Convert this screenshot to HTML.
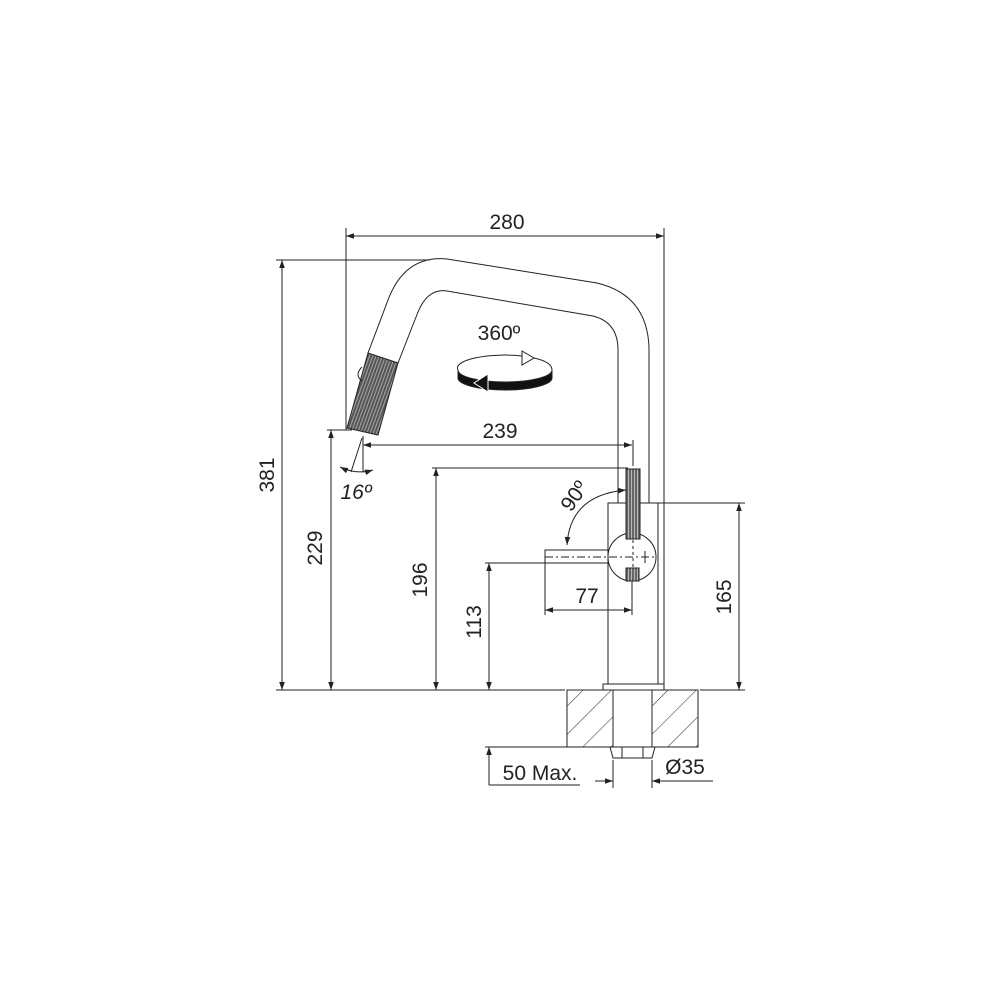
<!DOCTYPE html>
<html><head><style>body{margin:0;background:#fff}svg{display:block}</style></head><body>
<svg width="1000" height="1000" viewBox="0 0 1000 1000" xmlns="http://www.w3.org/2000/svg" font-family="Liberation Sans, sans-serif">
<defs>
<marker id="a" viewBox="0 0 10 10" refX="10" refY="5" markerWidth="15" markerHeight="8" markerUnits="userSpaceOnUse" orient="auto-start-reverse"><path d="M0,1.5 L10,5 L0,8.5z" fill="#222"/></marker>
<pattern id="hatch" width="20" height="20" patternUnits="userSpaceOnUse" patternTransform="rotate(45)"><line x1="0" y1="0" x2="0" y2="20" stroke="#333" stroke-width="1.1"/></pattern>
<pattern id="knurl" width="3" height="3" patternUnits="userSpaceOnUse" patternTransform="rotate(20)"><rect width="3" height="3" fill="#555"/><line x1="1" y1="0" x2="1" y2="3" stroke="#bbb" stroke-width="0.8"/></pattern>
<pattern id="vk" width="3" height="3" patternUnits="userSpaceOnUse"><rect width="3" height="3" fill="#666"/><line x1="1.5" y1="0" x2="1.5" y2="3" stroke="#ccc" stroke-width="0.8"/></pattern>
</defs>
<g fill="none" stroke="#222" stroke-width="1">
<path d="M368,353 L388,300 Q405,255 447,259 L597,283 Q647,295 649,347 L649,503"/>
<path d="M398,363 L418,312 Q428,288 447,291 L593,316 Q617,322 618,348 L618,503"/>
<path d="M368,353 L398,363 L378,435 L347,428 Z" fill="url(#knurl)"/>
<path d="M362,367 q-8,8 0,14" />
<rect x="608" y="503" width="50" height="181"/>
<rect x="603" y="684" width="61" height="6"/>
<rect x="545" y="550" width="87" height="13"/>
<circle cx="632" cy="557" r="24" fill="#fff"/>
<line x1="545" y1="557" x2="656" y2="557" stroke-dasharray="8,3,2,3"/>
<line x1="633" y1="540" x2="633" y2="568" stroke-dasharray="3,3"/>
<rect x="626" y="469" width="14" height="70" fill="url(#vk)"/>
<rect x="626" y="568" width="13" height="13" fill="url(#vk)"/>
<line x1="645" y1="551" x2="645" y2="563"/>
<rect x="567" y="690" width="46" height="57" fill="url(#hatch)"/>
<rect x="652" y="690" width="46" height="57" fill="url(#hatch)"/>
<rect x="613" y="690" width="39" height="57" fill="#fff"/>
<path d="M610,747 L655,747 L652,758 L613,758 Z"/>
<line x1="622" y1="747" x2="622" y2="758"/><line x1="643" y1="747" x2="643" y2="758"/>
<line x1="346" y1="228" x2="346" y2="430"/>
<line x1="664" y1="228" x2="664" y2="690"/>
<line x1="276" y1="260" x2="430" y2="260"/>
<line x1="327" y1="430" x2="352" y2="430"/>
<line x1="432" y1="468" x2="628" y2="468"/>
<line x1="485" y1="563" x2="545" y2="563"/>
<line x1="658" y1="503" x2="745" y2="503"/>
<line x1="276" y1="690" x2="565" y2="690"/>
<line x1="700" y1="690" x2="745" y2="690"/>
<line x1="485" y1="747" x2="567" y2="747"/>
<line x1="633" y1="440" x2="633" y2="466"/>
<line x1="545" y1="563" x2="545" y2="615"/>
<line x1="632" y1="581" x2="632" y2="615"/>
<line x1="613" y1="760" x2="613" y2="788"/>
<line x1="652" y1="760" x2="652" y2="788"/>
<line x1="489" y1="747" x2="489" y2="785"/><line x1="489" y1="785" x2="580" y2="785"/>
<line x1="346" y1="236" x2="664" y2="236" marker-start="url(#a)" marker-end="url(#a)"/>
<line x1="282" y1="260" x2="282" y2="690" marker-start="url(#a)" marker-end="url(#a)"/>
<line x1="331" y1="430" x2="331" y2="690" marker-start="url(#a)" marker-end="url(#a)"/>
<line x1="363" y1="445" x2="632" y2="445" marker-start="url(#a)" marker-end="url(#a)"/>
<line x1="436" y1="468" x2="436" y2="690" marker-start="url(#a)" marker-end="url(#a)"/>
<line x1="489" y1="563" x2="489" y2="690" marker-start="url(#a)" marker-end="url(#a)"/>
<line x1="739" y1="503" x2="739" y2="690" marker-start="url(#a)" marker-end="url(#a)"/>
<line x1="545" y1="610" x2="632" y2="610" marker-start="url(#a)" marker-end="url(#a)"/>
<line x1="489" y1="770" x2="489" y2="747" marker-end="url(#a)"/>
<line x1="595" y1="781" x2="613" y2="781" marker-end="url(#a)"/>
<line x1="713" y1="781" x2="652" y2="781" marker-end="url(#a)"/>
<line x1="363" y1="436" x2="363" y2="472"/>
<line x1="362" y1="438" x2="351" y2="472"/>
<path d="M340,467 Q356,475 373,470" marker-start="url(#a)" marker-end="url(#a)"/>
<path d="M626,490 Q570,495 567,545" marker-start="url(#a)" marker-end="url(#a)"/>
<!-- 360 rotation -->
<path d="M458,370 A47,13 0 0 1 522,356"/>
<path d="M522,351 L534,358 L522,365 Z" fill="#fff"/>
<path d="M534,358 Q552,362 552,370"/>
<path d="M458,370 A47,12 0 0 0 552,370 L552,378 A47,12 0 0 1 458,378 Z" fill="#111"/>
<path d="M488,374 L488,392 L474,383 Z" fill="#111" stroke="#fff" stroke-width="1"/>
</g>
<g fill="#222" font-size="21" text-anchor="middle">
<text x="507" y="229">280</text>
<text x="500" y="438">239</text>
<text x="499" y="340">360º</text>
<text x="356" y="499" font-style="italic">16º</text>
<text x="587" y="603">77</text>
<text x="540" y="780">50 Max.</text>
<text x="685" y="774">Ø35</text>
<text transform="translate(274,475) rotate(-90)">381</text>
<text transform="translate(322,548) rotate(-90)">229</text>
<text transform="translate(427,580) rotate(-90)">196</text>
<text transform="translate(481,622) rotate(-90)">113</text>
<text transform="translate(731,597) rotate(-90)">165</text>
<text transform="translate(580,500) rotate(-55)">90º</text>
</g>
</svg>
</body></html>
